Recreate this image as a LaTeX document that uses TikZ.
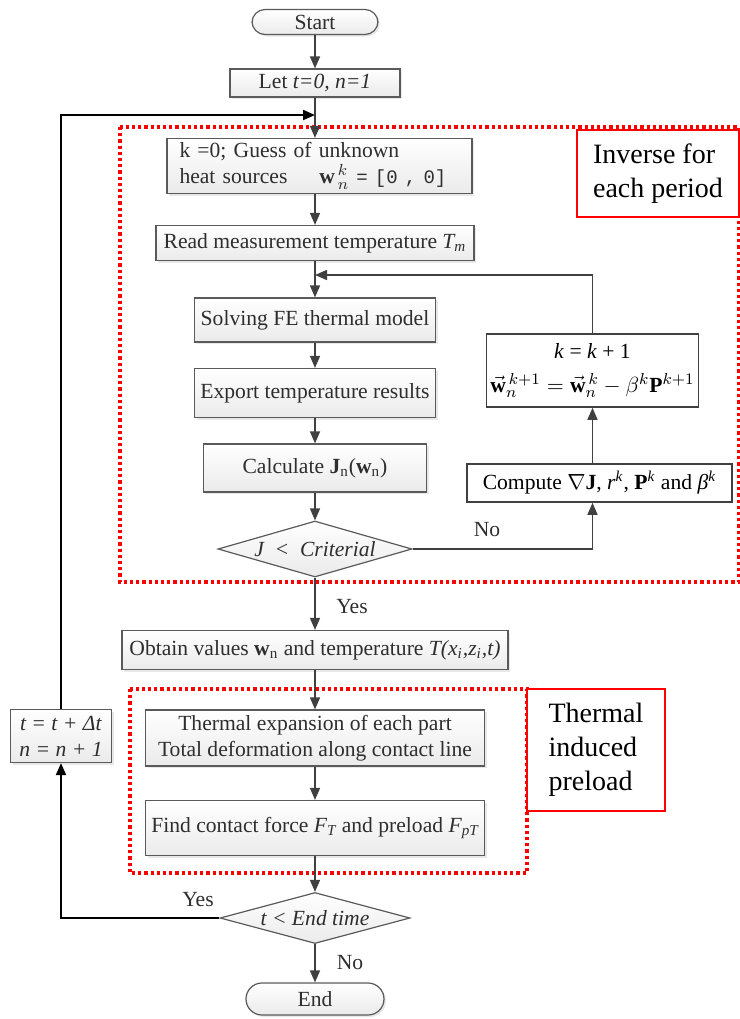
\documentclass[tikz,border=0pt]{standalone}
\usepackage{fontspec}
\setmainfont{Liberation Serif}
\setmonofont{Liberation Mono}
\usepackage{amsmath}
\usetikzlibrary{positioning,arrows.meta,shapes.geometric,shadows}
\definecolor{boxline}{HTML}{5A5A5A}
\definecolor{flowgray}{HTML}{404040}
\definecolor{boxtext}{HTML}{2E2E2E}
\tikzset{
  flowarrow/.style={-{Triangle[length=6pt,width=5pt]}, line width=0.75pt, draw=flowgray},
  loopline/.style={-{Triangle[length=6pt,width=5pt]}, line width=1pt, draw=black},
  procbox/.style={draw=boxline, line width=0.6pt, top color=white, bottom color=gray!16, text=boxtext, align=center, inner sep=2pt, drop shadow={opacity=0.18, shadow xshift=1pt, shadow yshift=-1pt}},
  plainbox/.style={draw=flowgray, line width=0.8pt, fill=white, text=black, align=center, inner sep=2pt},
  termbox/.style={procbox, rounded corners=6.5pt},
  decision/.style={diamond, draw=boxline, line width=0.6pt, aspect=3.5, inner sep=0pt, top color=white, bottom color=gray!16, text=boxtext},
  redzone/.style={draw=red, line width=1.8pt, dash pattern=on 1.6pt off 1.5pt},
  notebox/.style={draw=red, line width=0.6pt, fill=white, align=left, text=black, font=\fontsize{14}{17}\selectfont},
  flowlabel/.style={text=boxtext, inner sep=1pt}
}

\begin{document}
\begin{tikzpicture}[x=0.5pt, y=-0.5pt, >=Latex, every node/.style={font=\fontsize{10.8}{13}\selectfont}]
  \useasboundingbox (0,0) rectangle (740,1019);
  % red dotted regions
  \draw[redzone] (120,127) rectangle (739,582);
  \draw[redzone] (130,689) rectangle (527,873);
  \node[notebox, minimum width=81pt, minimum height=43.5pt] (inverse) at (658,173.5) {Inverse for\\each period};
  \node[notebox, minimum width=69pt, minimum height=61pt] (preload) at (596,750) {Thermal\\induced\\preload};

  % main column
  \node[termbox, minimum width=63pt, minimum height=12.5pt, inner sep=0pt] (start) at (315,22) {Start};
  \node[procbox, minimum width=85pt, minimum height=14pt] (let) at (315,83) {Let \textit{t=0, n=1}};
  \coordinate (join) at (315,115);
  \node[procbox, minimum width=152.5pt, minimum height=27.5pt, text width=140pt, align=left] (kzero) at (319.5,166)
    {k =0; Guess of unknown\\heat sources\hspace{16pt}$\mathbf{w}^{\,k}_{\,n}$\ {\ttfamily\fontsize{9.5}{13}\selectfont = [0 , 0]}};
  \node[procbox, minimum width=159pt, minimum height=17.5pt] (read) at (315,243) {Read measurement temperature \textit{T\textsubscript{m}}};
  \coordinate (reentry) at (315,275);
  \node[procbox, minimum width=120.5pt, minimum height=22pt] (solve) at (315,320) {Solving FE thermal model};
  \node[procbox, minimum width=120.5pt, minimum height=24.5pt] (export) at (315,393) {Export temperature results};
  \node[procbox, minimum width=111.5pt, minimum height=24pt] (calc) at (315,468) {Calculate \textbf{J}\textsubscript{n}(\textbf{w}\textsubscript{n})};
  \node[decision, minimum width=97pt, minimum height=28pt] (crit) at (315,549) {\textit{J\enspace<\enspace Criterial}};

  % update loop
  \node[plainbox, minimum width=132.5pt, minimum height=19pt] (compute) at (599.5,483)
    {Compute $\nabla$\textbf{J}, \textit{r}\textsuperscript{\textit{k}}, \textbf{P}\textsuperscript{\textit{k}} and \textit{β}\textsuperscript{\textit{k}}};
  \node[plainbox, minimum width=94.5pt, minimum height=36.5pt] (kupd) at (592.5,370.5)
    {\textit{k} = \textit{k} + 1\\[4pt]$\vec{\mathbf{w}}_n^{\,k+1} = \vec{\mathbf{w}}_n^{\,k} - \beta^k\mathbf{P}^{k+1}$};

  \node[procbox, minimum width=193pt, minimum height=19.5pt] (obtain) at (315,650)
    {Obtain values \textbf{w}\textsubscript{n} and temperature \textit{T(x\textsubscript{i},z\textsubscript{i},t)}};
  \node[procbox, minimum width=169.5pt, minimum height=28pt] (expan) at (315,738)
    {Thermal expansion of each part\\Total deformation along contact line};
  \node[procbox, minimum width=169.5pt, minimum height=27.5pt] (find) at (315,828)
    {Find contact force \textit{F\textsubscript{T}} and preload \textit{F\textsubscript{pT}}};
  \node[decision, minimum width=95pt, minimum height=25.5pt] (endt) at (315,918) {\textit{t < End time}};
  \node[termbox, minimum width=69pt, minimum height=16pt, inner sep=0pt, rounded corners=8pt] (endn) at (315,999) {End};
  \node[procbox, minimum width=50.5pt, minimum height=26.5pt] (tupd) at (61,736) {\textit{t = t + Δt}\\\textit{n = n + 1}};

  % connectors
  \draw[flowarrow] (start) -- (let);
  \draw[flowarrow] (let) -- (let.south |- kzero.north);
  \draw[flowarrow] (read.north |- kzero.south) -- (read);
  \draw[flowarrow] (read) -- (solve);
  \draw[flowarrow] (solve) -- (export);
  \draw[flowarrow] (export) -- (calc);
  \draw[flowarrow] (calc) -- (crit);
  \draw[flowarrow] (crit.east) -| (kupd.south |- compute.south);
  \node[flowlabel] (nolabel) at (487,530) {No};
  \draw[flowarrow] (kupd.south |- compute.north) -- (kupd.south);
  \draw[flowarrow] (kupd.north) -- (kupd.north |- reentry) -- (reentry);
  \draw[flowarrow] (crit) -- (obtain);
  \node[flowlabel] (yeslabel) at (352,607) {Yes};
  \draw[flowarrow] (obtain) -- (expan);
  \draw[flowarrow] (expan) -- (find);
  \draw[flowarrow] (find) -- (endt);
  \draw[flowarrow] (endt) -- (endn);
  \node[flowlabel] (endno) at (350,963) {No};
  \draw[loopline] (endt.west) -| (tupd.south);
  \node[flowlabel] (endyes) at (198,900) {Yes};
  \draw[loopline] (tupd.north) |- (join);
\end{tikzpicture}
\end{document}
